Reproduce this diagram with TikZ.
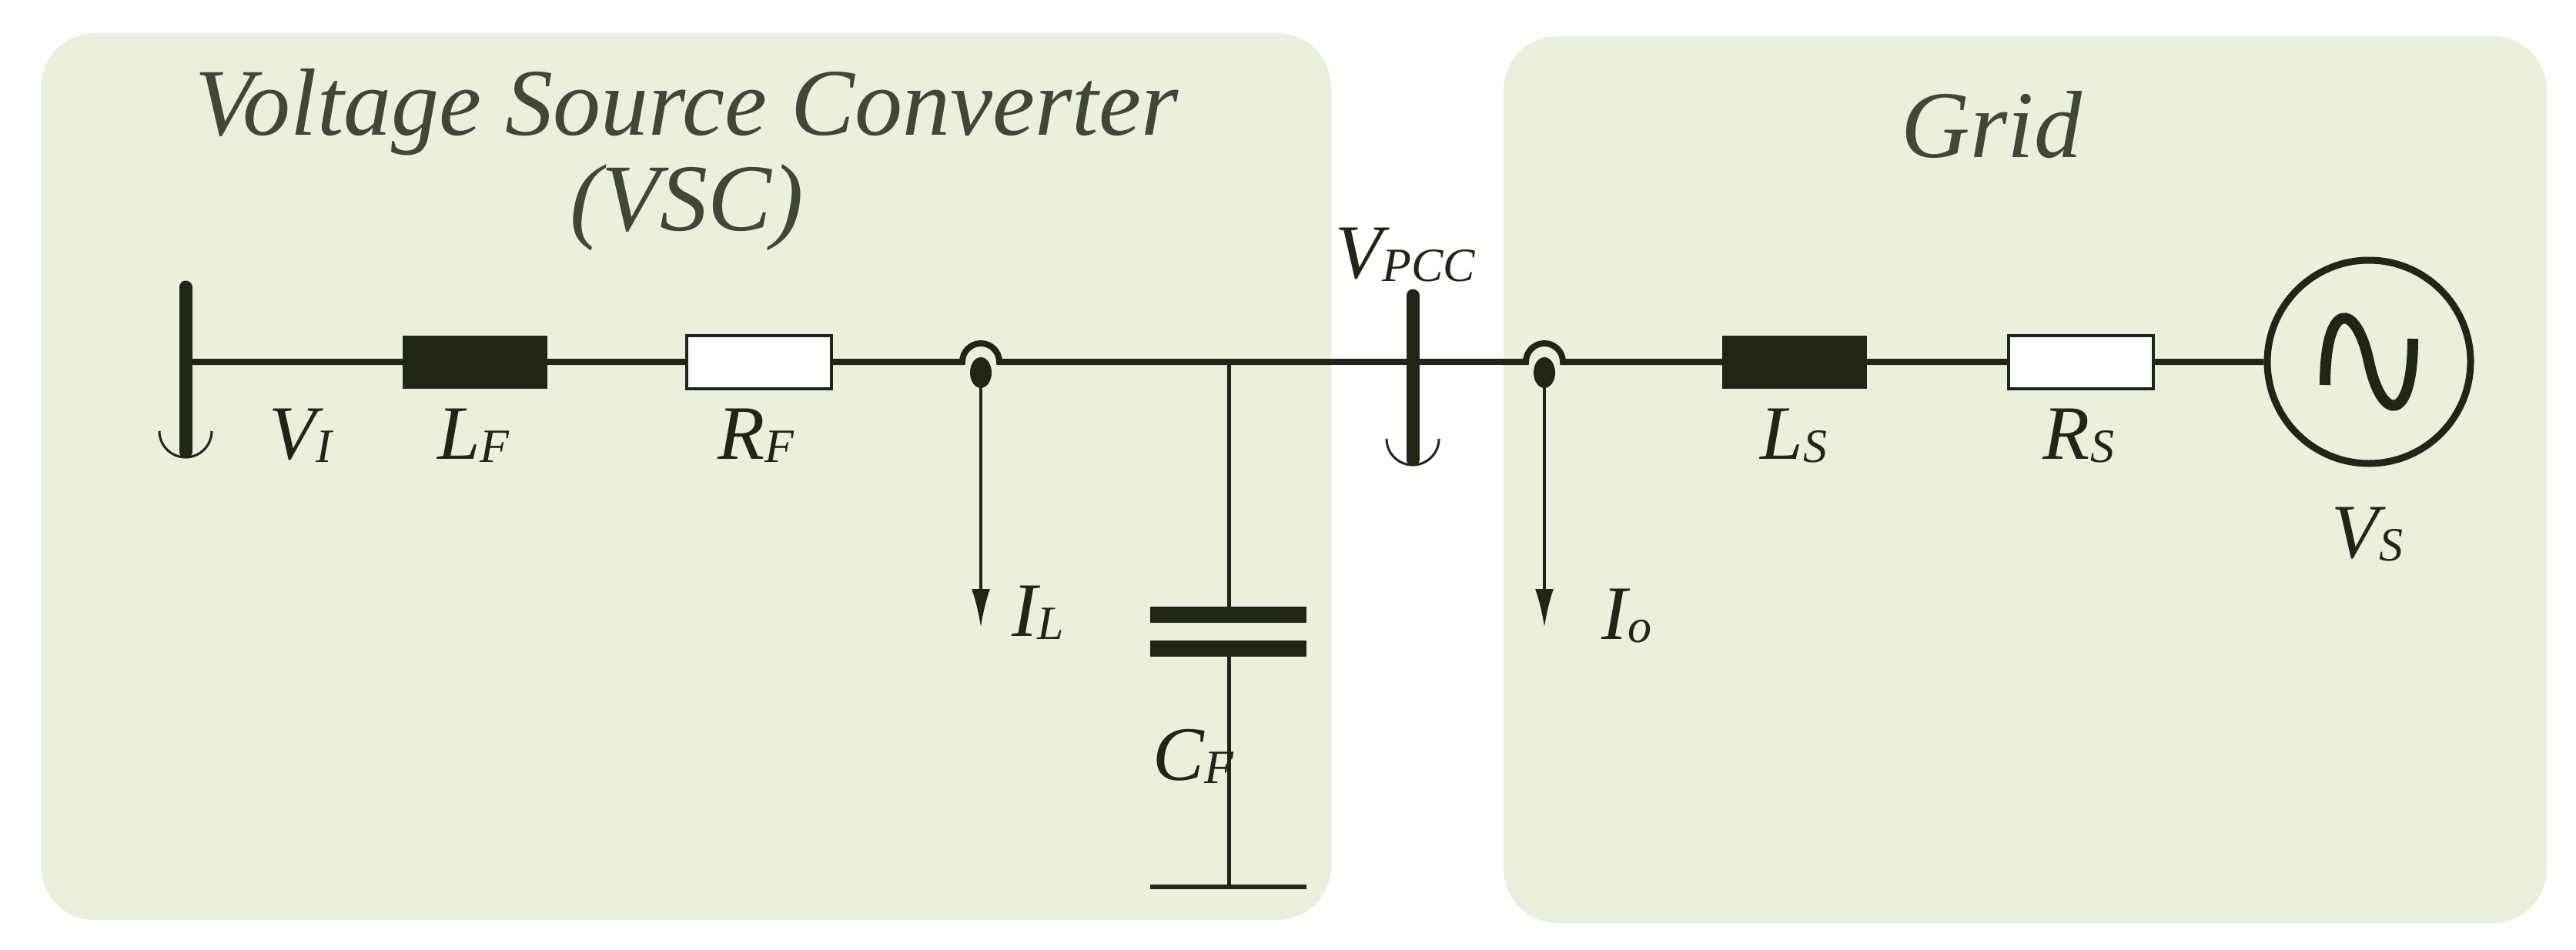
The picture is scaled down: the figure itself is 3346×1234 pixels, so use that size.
\documentclass[tikz,border=0pt]{standalone}
\usepackage{fontspec}
\setmainfont{Liberation Serif}
\usetikzlibrary{positioning,arrows.meta,calc}
\tikzset{>={Latex[length=50pt,width=24pt]}}
\definecolor{mypanel}{RGB}{234,240,222}
\definecolor{mywire}{RGB}{33,37,22}
\tikzset{
  wire/.style={draw=mywire,line width=8pt},
  panel/.style={fill=mypanel,rounded corners=70pt},
  ind/.style={fill=mywire,minimum width=188pt,minimum height=69pt,inner sep=0pt},
  res/.style={draw=mywire,fill=white,line width=4pt,minimum width=188pt,minimum height=69pt,inner sep=0pt},
  lbl/.style={font=\fontsize{100}{100}\selectfont\itshape,text=mywire},
  ttl/.style={font=\fontsize{124}{124}\selectfont\itshape,text=mywire!85,align=center},
  bus/.style={draw=mywire,line width=17pt,line cap=round},
  meas/.style={draw=mywire,line width=4pt,->}
}
\newcommand{\sub}[1]{\raisebox{-4pt}{\fontsize{62}{62}\selectfont #1}}
\begin{document}
\begin{tikzpicture}[x=1pt,y=-1pt]
  \useasboundingbox (0,0) rectangle (3346,1234);
  \fill[white] (0,0) rectangle (3346,1234);

  % panels
  \fill[panel] (53,43) rectangle (1729,1195);
  \fill[panel] (1953,47) rectangle (3308,1199);
  \node[ttl] (vsc) at (892,208) {Voltage Source Converter\\(VSC)};
  \node[ttl] (grid) at (2587,162) {Grid};

  % components
  \coordinate (vi) at (241,470);
  \node[ind] (lf) at (617,470) {};
  \node[res] (rf) at (986,470) {};
  \coordinate (jl) at (1274,470);
  \coordinate (cf) at (1596,470);
  \coordinate (pcc) at (1835,470);
  \coordinate (jo) at (2006,470);
  \node[ind] (ls) at (2331,470) {};
  \node[res] (rs) at (2703,470) {};
  \node[circle,draw=mywire,line width=9pt,minimum size=264pt,inner sep=0pt] (vs) at (3077,470) {};

  % wires
  \draw[wire] (vi) -- (lf) (lf) -- (rf) (rf) -- ($(jl)+(-24,0)$)
    arc[start angle=180,end angle=360,radius=24] -- (cf) -- ($(jo)+(-24,0)$)
    arc[start angle=180,end angle=360,radius=24] -- (ls) (ls) -- (rs) (rs) -- (vs);
  \fill[white] (1731,440) rectangle (1951,500);
  \draw[wire] (1731,470) -- (1951,470);

  % buses
  \draw[bus] (241,373) -- (241,587);
  \draw[bus] (1835,384) -- (1835,597);
  \draw[mywire,line width=3pt] (207,560) arc[start angle=180,end angle=0,radius=34];
  \draw[mywire,line width=3pt] (1801,570) arc[start angle=180,end angle=0,radius=34];

  % capacitor
  \coordinate (cp1) at (1596,790);
  \coordinate (cp2) at (1596,852);
  \coordinate (gnd) at (1596,1152);
  \draw[mywire,line width=5pt] (cf) -- (cp1) (cp2) -- (gnd);
  \fill[mywire] (1494,788) rectangle (1697,809);
  \fill[mywire] (1494,832) rectangle (1697,853);
  \draw[mywire,line width=6pt] (1494,1152) -- (1697,1152);

  % current arrows
  \fill[mywire] (1274,484) ellipse (14 and 20);
  \fill[mywire] (2006,484) ellipse (14 and 20);
  \coordinate (il) at (1274,815);
  \coordinate (io) at (2006,815);
  \draw[meas] (jl) -- (il);
  \draw[meas] (jo) -- (io);

  % sine in source
  \draw[mywire,line width=14pt] (3020,500) .. controls (3020,390) and (3060,390) .. (3077,470)
    .. controls (3094,550) and (3134,550) .. (3134,440);

  % labels
  \node[lbl] (lvi) at (390,566) {V\sub{I}};
  \node[lbl] (llf) at (615,566) {L\sub{F}};
  \node[lbl] (lrf) at (982,566) {R\sub{F}};
  \node[lbl] (lil) at (1348,796) {I\sub{L}};
  \node[lbl] (lcf) at (1550,982) {C\sub{F}};
  \node[lbl] (lpcc) at (1825,331) {V\sub{PCC}};
  \node[lbl] (lio) at (2113,800) {I\sub{o}};
  \node[lbl] (lls) at (2330,566) {L\sub{S}};
  \node[lbl] (lrs) at (2700,566) {R\sub{S}};
  \node[lbl] (lvs) at (3075,694) {V\sub{S}};
\end{tikzpicture}
\end{document}
